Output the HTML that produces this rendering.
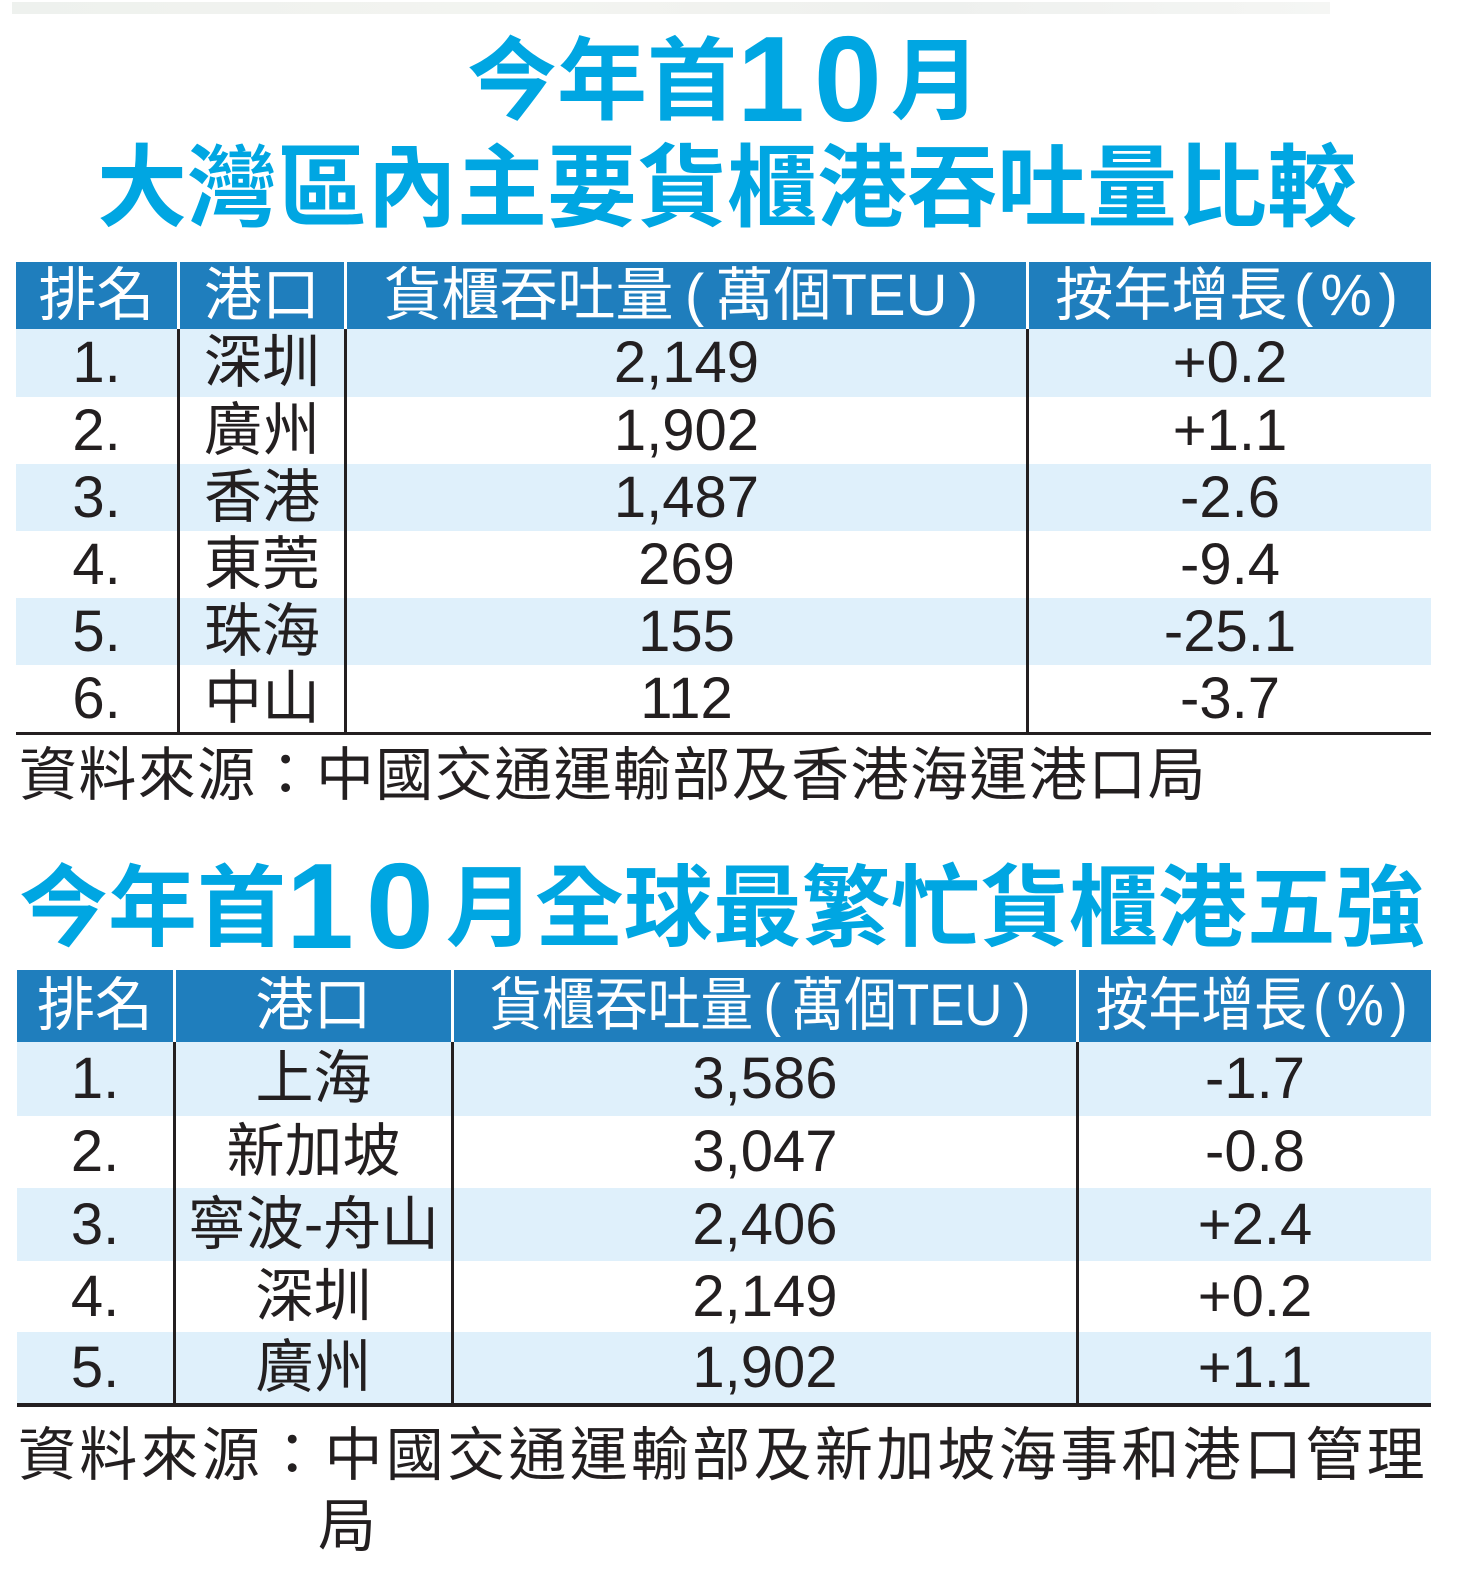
<!DOCTYPE html>
<html>
<head>
<meta charset="utf-8">
<style>
html,body{margin:0;padding:0;}
body{width:1462px;height:1584px;position:relative;background:#fff;overflow:hidden;font-family:"Liberation Sans","Noto Sans CJK TC",sans-serif;}
.t{position:absolute;white-space:nowrap;color:#00a6e2;font-weight:bold;font-size:90px;line-height:90px;font-family:"Liberation Sans","Noto Sans CJK TC",sans-serif;}
.d{font-size:122px;line-height:90px;vertical-align:-9px;font-weight:bold;}
.hd{position:absolute;background:#1f7ebd;}
.lr{position:absolute;background:#dff0fb;}
.c{position:absolute;text-align:center;white-space:nowrap;font-size:58px;color:#231f20;}
.h{color:#fff;}
.vw{position:absolute;width:3px;background:#fff;}
.vb{position:absolute;width:3px;background:#231f20;}
.hl{position:absolute;background:#231f20;}
.p{display:inline-block;width:42px;text-align:center;}
.p2{display:inline-block;width:33px;text-align:center;}
.sx{display:inline-block;transform:scaleX(0.91);transform-origin:center;}
.src{position:absolute;white-space:nowrap;font-size:58px;color:#231f20;}
</style>
</head>
<body>

<!-- faint top strip -->
<div style="position:absolute;left:12px;top:2px;width:1318px;height:12px;background:linear-gradient(90deg,#eef1ee,#f3f4f0 40%,#eef0ee 70%,#f5f6f4);"></div>

<!-- Title 1 -->
<div class="t" style="left:467px;top:34px;">今年首<span class="d" style="letter-spacing:9px;">10</span>月</div>
<div class="t" style="left:97px;top:144px;letter-spacing:0px;">大灣區內主要貨櫃港吞吐量比較</div>

<!-- Table 1 header -->
<div class="hd" style="left:16px;top:262px;width:1415px;height:67px;"></div>
<div class="c h" style="left:16px;top:262px;width:161px;line-height:67px;">排名</div>
<div class="c h" style="left:180px;top:262px;width:164px;line-height:67px;">港口</div>
<div class="c h" style="left:347px;top:262px;width:679px;line-height:67px;">貨櫃吞吐量<span class="p">(</span>萬個TEU<span class="p">)</span></div>
<div class="c h" style="left:1029px;top:262px;width:402px;line-height:67px;">按年增長<span class="p2">(</span>%<span class="p2">)</span></div>

<!-- Table 1 light rows -->
<div class="lr" style="left:16px;top:329px;width:1415px;height:68px;"></div>
<div class="lr" style="left:16px;top:464px;width:1415px;height:67px;"></div>
<div class="lr" style="left:16px;top:598px;width:1415px;height:67px;"></div>

<!-- Table 1 rows -->
<div class="c" style="left:16px;top:329px;width:161px;line-height:68px;">1.</div>
<div class="c" style="left:180px;top:329px;width:164px;line-height:68px;">深圳</div>
<div class="c" style="left:347px;top:329px;width:679px;line-height:68px;">2,149</div>
<div class="c" style="left:1029px;top:329px;width:402px;line-height:68px;">+0.2</div>

<div class="c" style="left:16px;top:397px;width:161px;line-height:67px;">2.</div>
<div class="c" style="left:180px;top:397px;width:164px;line-height:67px;">廣州</div>
<div class="c" style="left:347px;top:397px;width:679px;line-height:67px;">1,902</div>
<div class="c" style="left:1029px;top:397px;width:402px;line-height:67px;">+1.1</div>

<div class="c" style="left:16px;top:464px;width:161px;line-height:67px;">3.</div>
<div class="c" style="left:180px;top:464px;width:164px;line-height:67px;">香港</div>
<div class="c" style="left:347px;top:464px;width:679px;line-height:67px;">1,487</div>
<div class="c" style="left:1029px;top:464px;width:402px;line-height:67px;">-2.6</div>

<div class="c" style="left:16px;top:531px;width:161px;line-height:67px;">4.</div>
<div class="c" style="left:180px;top:531px;width:164px;line-height:67px;">東莞</div>
<div class="c" style="left:347px;top:531px;width:679px;line-height:67px;">269</div>
<div class="c" style="left:1029px;top:531px;width:402px;line-height:67px;">-9.4</div>

<div class="c" style="left:16px;top:598px;width:161px;line-height:67px;">5.</div>
<div class="c" style="left:180px;top:598px;width:164px;line-height:67px;">珠海</div>
<div class="c" style="left:347px;top:598px;width:679px;line-height:67px;">155</div>
<div class="c" style="left:1029px;top:598px;width:402px;line-height:67px;">-25.1</div>

<div class="c" style="left:16px;top:665px;width:161px;line-height:67px;">6.</div>
<div class="c" style="left:180px;top:665px;width:164px;line-height:67px;">中山</div>
<div class="c" style="left:347px;top:665px;width:679px;line-height:67px;">112</div>
<div class="c" style="left:1029px;top:665px;width:402px;line-height:67px;">-3.7</div>

<!-- Table 1 dividers -->
<div class="vw" style="left:177px;top:262px;height:67px;"></div>
<div class="vw" style="left:344px;top:262px;height:67px;"></div>
<div class="vw" style="left:1026px;top:262px;height:67px;"></div>
<div class="vb" style="left:177px;top:329px;height:404px;"></div>
<div class="vb" style="left:344px;top:329px;height:404px;"></div>
<div class="vb" style="left:1026px;top:329px;height:404px;"></div>
<div class="hl" style="left:16px;top:732px;width:1415px;height:3px;"></div>

<!-- Source 1 -->
<div class="src" style="left:19px;top:747px;line-height:58px;letter-spacing:1.4px;">資料來源：中國交通運輸部及香港海運港口局</div>

<!-- Title 2 -->
<div class="t" style="left:19px;top:861px;font-size:89px;">今年首<span class="d" style="letter-spacing:12px;">10</span>月全球最繁忙貨櫃港五強</div>

<!-- Table 2 header -->
<div class="hd" style="left:17px;top:970px;width:1414px;height:72px;"></div>
<div class="c h" style="left:17px;top:970px;width:156px;line-height:72px;">排名</div>
<div class="c h" style="left:176px;top:970px;width:275px;line-height:72px;">港口</div>
<div class="c h" style="left:454px;top:970px;width:622px;line-height:72px;"><span class="sx">貨櫃吞吐量<span class="p">(</span>萬個TEU<span class="p">)</span></span></div>
<div class="c h" style="left:1079px;top:970px;width:352px;line-height:72px;"><span class="sx">按年增長<span class="p2">(</span>%<span class="p2">)</span></span></div>

<!-- Table 2 light rows -->
<div class="lr" style="left:17px;top:1042px;width:1414px;height:74px;"></div>
<div class="lr" style="left:17px;top:1188px;width:1414px;height:73px;"></div>
<div class="lr" style="left:17px;top:1332px;width:1414px;height:72px;"></div>

<!-- Table 2 rows -->
<div class="c" style="left:17px;top:1042px;width:156px;line-height:74px;">1.</div>
<div class="c" style="left:176px;top:1042px;width:275px;line-height:74px;">上海</div>
<div class="c" style="left:454px;top:1042px;width:622px;line-height:74px;">3,586</div>
<div class="c" style="left:1079px;top:1042px;width:352px;line-height:74px;">-1.7</div>

<div class="c" style="left:17px;top:1116px;width:156px;line-height:72px;">2.</div>
<div class="c" style="left:176px;top:1116px;width:275px;line-height:72px;">新加坡</div>
<div class="c" style="left:454px;top:1116px;width:622px;line-height:72px;">3,047</div>
<div class="c" style="left:1079px;top:1116px;width:352px;line-height:72px;">-0.8</div>

<div class="c" style="left:17px;top:1188px;width:156px;line-height:73px;">3.</div>
<div class="c" style="left:176px;top:1188px;width:275px;line-height:73px;">寧波-舟山</div>
<div class="c" style="left:454px;top:1188px;width:622px;line-height:73px;">2,406</div>
<div class="c" style="left:1079px;top:1188px;width:352px;line-height:73px;">+2.4</div>

<div class="c" style="left:17px;top:1261px;width:156px;line-height:71px;">4.</div>
<div class="c" style="left:176px;top:1261px;width:275px;line-height:71px;">深圳</div>
<div class="c" style="left:454px;top:1261px;width:622px;line-height:71px;">2,149</div>
<div class="c" style="left:1079px;top:1261px;width:352px;line-height:71px;">+0.2</div>

<div class="c" style="left:17px;top:1332px;width:156px;line-height:72px;">5.</div>
<div class="c" style="left:176px;top:1332px;width:275px;line-height:72px;">廣州</div>
<div class="c" style="left:454px;top:1332px;width:622px;line-height:72px;">1,902</div>
<div class="c" style="left:1079px;top:1332px;width:352px;line-height:72px;">+1.1</div>

<!-- Table 2 dividers -->
<div class="vw" style="left:173px;top:970px;height:72px;"></div>
<div class="vw" style="left:451px;top:970px;height:72px;"></div>
<div class="vw" style="left:1076px;top:970px;height:72px;"></div>
<div class="vb" style="left:173px;top:1042px;height:363px;"></div>
<div class="vb" style="left:451px;top:1042px;height:363px;"></div>
<div class="vb" style="left:1076px;top:1042px;height:363px;"></div>
<div class="hl" style="left:17px;top:1403px;width:1414px;height:4px;"></div>

<!-- Source 2 -->
<div class="src" style="left:18px;top:1420px;line-height:71px;letter-spacing:3.3px;">資料來源：中國交通運輸部及新加坡海事和港口管理</div>
<div class="src" style="left:318px;top:1491px;line-height:71px;">局</div>

</body>
</html>
